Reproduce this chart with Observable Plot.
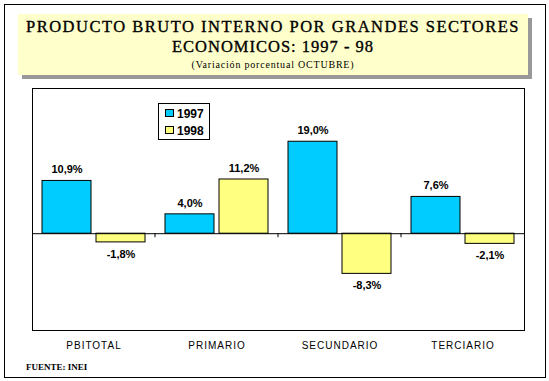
<!DOCTYPE html>
<html>
<head>
<meta charset="utf-8">
<script src="https://cdn.jsdelivr.net/npm/d3@7"></script>
<script src="https://cdn.jsdelivr.net/npm/@observablehq/plot@0.6"></script>
<style>
  body { margin: 0; background: #fff; }
  #wrap { position: relative; width: 549px; height: 381px; overflow: hidden; background: #fff; }
  #border { position: absolute; left: 4px; top: 4px; width: 540px; height: 372px; border: 1px solid #000; }
  #shadow { position: absolute; left: 22px; top: 18px; width: 510px; height: 61px; background: #999999; }
  #titlebox { position: absolute; left: 18px; top: 14px; width: 510px; height: 61px; background: #FFFFCC;
    font-family: "Liberation Serif", "Times New Roman", serif; color: #000; text-align: center; }
  #t1 { position: absolute; left: 0; right: 0; top: 4px; font-size: 16.5px; line-height: 18px; letter-spacing: 1.5px; white-space: nowrap; -webkit-text-stroke: 0.35px #000; }
  #t2 { position: absolute; left: 0; right: 0; top: 24px; font-size: 16.5px; line-height: 18px; letter-spacing: 1.0px; white-space: nowrap; -webkit-text-stroke: 0.35px #000; }
  #t3 { position: absolute; left: 0; right: 0; top: 45px; font-size: 10px; line-height: 12px; letter-spacing: 0.8px; white-space: nowrap; }
  #chart { position: absolute; left: 0; top: 0; }
  #legend { position: absolute; left: 158px; top: 103px; width: 50px; height: 35px; border: 1px solid #000; background: #fff;
    font-family: "Liberation Sans", Arial, sans-serif; font-weight: bold; font-size: 12px; }
  .lrow { position: absolute; left: 6px; height: 14px; line-height: 14px; white-space: nowrap; }
  .sw { display: inline-block; width: 7px; height: 6px; border: 1px solid #000; margin-right: 3px; vertical-align: 1px; }
  #source { position: absolute; left: 26px; top: 362px; font-family: "Liberation Serif", "Times New Roman", serif;
    font-weight: bold; font-size: 9px; white-space: nowrap; }
  .chart [aria-label="fx-axis tick label"] text { letter-spacing: 1px; }
</style>
</head>
<body>
<div id="wrap">
  <div id="border"></div>
  <div id="shadow"></div>
  <div id="titlebox">
    <div id="t1">PRODUCTO BRUTO INTERNO POR GRANDES SECTORES</div>
    <div id="t2">ECONOMICOS: 1997 - 98</div>
    <div id="t3">(Variación porcentual OCTUBRE)</div>
  </div>
  <div id="chart"></div>
  <div id="legend"></div>
  <div id="source">FUENTE: INEI</div>
</div>
<script>
const categories = ["PBITOTAL", "PRIMARIO", "SECUNDARIO", "TERCIARIO"];
const years = ["1997", "1998"];
const values1997 = [10.9, 4.0, 19.0, 7.6];
const values1998 = [-1.8, 11.2, -8.3, -2.1];
const labels1997 = ["10,9%", "4,0%", "19,0%", "7,6%"];
const labels1998 = ["-1,8%", "11,2%", "-8,3%", "-2,1%"];
const colors = ["#00CCFF", "#FFFF80"];
const yDomain = [-20, 30];

const data = [];
categories.forEach((c, i) => {
  data.push({cat: c, year: years[0], value: values1997[i], label: labels1997[i]});
  data.push({cat: c, year: years[1], value: values1998[i], label: labels1998[i]});
});

const textStyle = {fontFamily: "Liberation Sans, Arial, sans-serif", fontWeight: "bold", fontSize: 11, fill: "#000"};

const plot = Plot.plot({
  className: "chart",
  width: 549,
  height: 381,
  marginTop: 88,
  marginBottom: 51,
  marginLeft: 31,
  marginRight: 24,
  style: {fontFamily: "Liberation Sans, Arial, sans-serif", fontSize: "10px", background: "transparent", color: "#000"},
  fx: {domain: categories, padding: 0, axis: "bottom", tickSize: 0, tickPadding: 11, label: null},
  x: {domain: years, paddingInner: 0.09, paddingOuter: 0.17, axis: null},
  y: {domain: yDomain, axis: null},
  color: {domain: years, range: colors},
  marks: [
    Plot.barY(data, {fx: "cat", x: "year", y: "value", fill: "year", stroke: "#000", strokeWidth: 1}),
    Plot.ruleY([0], {stroke: "#000", strokeWidth: 1}),
    Plot.text(data.filter(d => d.value >= 0), {fx: "cat", x: "year", y: "value", text: "label", dy: -11, ...textStyle}),
    Plot.text(data.filter(d => d.value < 0), {fx: "cat", x: "year", y: "value", text: "label", dy: 12, ...textStyle}),
    Plot.frame({facet: "super", stroke: "#000", strokeWidth: 1})
  ]
});
document.getElementById("chart").appendChild(plot);

// category boundary tick marks on the zero line, placed through Plot's scales
const fx = plot.scale("fx");
const ys = plot.scale("y");
const svg = d3.select(plot.tagName === "svg" ? plot : plot.querySelector("svg"));
const y0 = ys.apply(0);
svg.append("g").selectAll("line")
  .data(categories.slice(1))
  .join("line")
  .attr("x1", d => fx.apply(d))
  .attr("x2", d => fx.apply(d))
  .attr("y1", y0)
  .attr("y2", y0 + 4)
  .attr("stroke", "#000");

// legend
const legend = d3.select("#legend");
years.forEach((yr, i) => {
  const row = legend.append("div").attr("class", "lrow").style("top", (3 + i * 17) + "px");
  row.append("span").attr("class", "sw").style("background", colors[i]);
  row.append("span").text(yr);
});
</script>
</body>
</html>
